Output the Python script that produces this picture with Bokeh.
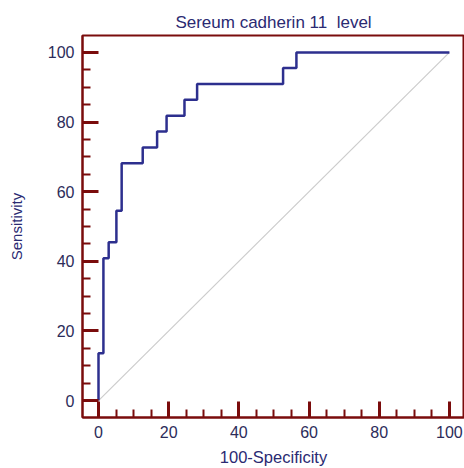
from bokeh.plotting import figure
from bokeh.models import Range1d, FixedTicker
from bokeh.embed import file_html
from bokeh.resources import INLINE

# ROC vertices (100-Specificity, Sensitivity)
fpr = [0, 0, 1.4, 2.9, 5.1, 6.6, 12.6, 16.7, 19.4, 24.5, 28.1, 52.6, 56.4, 100]
tpr = [0, 13.6, 40.9, 45.5, 54.5, 68.2, 72.7, 77.3, 81.8, 86.4, 90.9, 95.5, 100, 100]
diag = [0, 100]
ticks = [0, 20, 40, 60, 80, 100]
minor = [5, 10, 15, 25, 30, 35, 45, 50, 55, 65, 70, 75, 85, 90, 95]

FRAME = "#7a0c0c"
NAVY = "#2a2a72"

p = figure(width=464, height=468, output_backend="svg", toolbar_location=None,
           x_range=Range1d(-4.56, 104.3), y_range=Range1d(-4.86, 104.86),
           min_border_left=82, min_border_right=0, min_border_top=35, min_border_bottom=49,
           title="Sereum cadherin 11\u00a0 level")

p.title.align = "center"
p.title.text_font = "Liberation Sans"
p.title.text_font_size = "17px"
p.title.text_font_style = "normal"
p.title.text_color = NAVY
p.title.standoff = 7

p.outline_line_color = FRAME
p.outline_line_width = 2
p.xgrid.grid_line_color = None
p.ygrid.grid_line_color = None

for ax in (p.xaxis[0], p.yaxis[0]):
    ax.ticker = FixedTicker(ticks=ticks, minor_ticks=minor)
    ax.axis_line_color = FRAME
    ax.axis_line_width = 2
    ax.major_tick_line_color = FRAME
    ax.major_tick_line_width = 3
    ax.major_tick_in = 16
    ax.major_tick_out = 0
    ax.minor_tick_line_color = FRAME
    ax.minor_tick_line_width = 2
    ax.minor_tick_in = 8
    ax.minor_tick_out = 0
    ax.major_label_text_font = "Liberation Sans"
    ax.major_label_text_font_size = "16px"
    ax.major_label_text_color = "#2c2c5a"
    ax.major_label_standoff = 8
    ax.axis_label_text_font = "Liberation Sans"
    ax.axis_label_text_font_style = "normal"
    ax.axis_label_text_color = NAVY

p.xaxis.axis_label = "100-Specificity"
p.yaxis.axis_label = "Sensitivity"
p.xaxis.axis_label_text_font_size = "16.5px"
p.yaxis.axis_label_text_font_size = "15px"
p.xaxis.axis_label_standoff = 7
p.yaxis.axis_label_standoff = 20

p.line(diag, diag, line_color="#cccccc", line_width=1.2)
p.step(fpr, tpr, mode="after", line_color="#2d2f8e", line_width=2.5)

open("out.html", "w").write(file_html(p, INLINE))
